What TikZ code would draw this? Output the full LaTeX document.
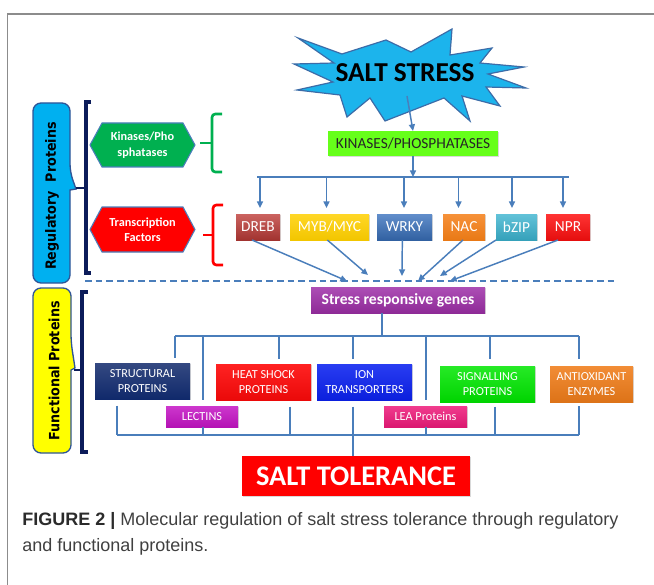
\documentclass[tikz,border=0pt]{standalone}
\usepackage{fontspec}
\setmainfont{Carlito}
\newfontfamily\capfont{Liberation Sans}
\newfontfamily\vfont[FakeStretch=0.9]{DejaVu Sans}
\usetikzlibrary{arrows.meta,shadows,calc}
\definecolor{linec}{HTML}{4A7EBB}
\definecolor{framec}{HTML}{8C8C8C}
\definecolor{starfill}{HTML}{1CB4EC}
\definecolor{starline}{HTML}{3C6CA8}
\definecolor{kgreen}{HTML}{66FF1A}
\definecolor{hexgreen}{HTML}{00B050}
\definecolor{navy}{HTML}{0C1C5A}
\definecolor{calloutline}{HTML}{2F5597}
\definecolor{regfill}{HTML}{00B0F0}
\definecolor{funfill}{HTML}{FFFF00}
\definecolor{drebc}{HTML}{BE3C38}
\definecolor{mybc}{HTML}{FFD000}
\definecolor{wrkyc}{HTML}{3A72BE}
\definecolor{nacc}{HTML}{F57F17}
\definecolor{bzipc}{HTML}{3BB3CF}
\definecolor{nprc}{HTML}{FF1010}
\definecolor{genesc}{HTML}{9E2FA8}
\definecolor{structc}{HTML}{10296B}
\definecolor{heatc}{HTML}{FF0A0A}
\definecolor{ionc}{HTML}{0C22F0}
\definecolor{sigc}{HTML}{00E600}
\definecolor{antic}{HTML}{F07D1A}
\definecolor{lectc}{HTML}{C414C4}
\definecolor{leac}{HTML}{EE1A7A}
\definecolor{saltc}{HTML}{FF0000}
\definecolor{capdark}{HTML}{2B2B2B}
\definecolor{capgray}{HTML}{404040}
\newcommand\pbx[7]{\node[#6, minimum width={(#4-#2)*0.75pt}, minimum height={(#5-#3)*0.75pt}] (#1) at ({(#2+#4)/2},{(#3+#5)/2}) {#7};}
\begin{document}
\begin{tikzpicture}[x=0.75pt,y=-0.75pt,
  arr/.style={draw=linec, line width=1.1pt, -{Triangle[length=5pt,width=4.5pt]}},
  tree/.style={draw=linec, line width=1.6pt},
  bx/.style={inner sep=0pt, outer sep=0pt, align=center, text=white,
    drop shadow={opacity=0.3, shadow xshift=1.1pt, shadow yshift=-1.1pt}},
  tfbox/.style={bx, font=\fontsize{11.5}{13}\selectfont},
  rowbox/.style={bx, font=\fontsize{9.2}{10.8}\selectfont},
  hexa/.style={draw=linec, line width=0.8pt},
  hextext/.style={text=white, align=center, font=\bfseries\fontsize{9.2}{11.5}\selectfont},
  callout/.style={draw=calloutline, line width=1pt},
  vlabel/.style={rotate=90, font=\vfont\bfseries\fontsize{10.6}{12}\selectfont},
  bracket/.style={draw=navy, line width=2.3pt},
  brace/.style={line width=2pt, rounded corners=2.5pt}
]
\useasboundingbox (0,0) rectangle (654,585);
% frame
\draw[framec, line width=1.1pt] (7.5,585) -- (7.5,14) -- (654,14);

% star
\draw[fill=starfill, draw=starline, line width=0.9pt, line join=miter]
 (298,38) -- (342,54) -- (386,40) -- (411,52) -- (452,29) -- (450,55) -- (492,48) -- (480,63)
 -- (524,67) -- (488,74) -- (526,88) -- (486,87) -- (500,106) -- (462,96) -- (470,121)
 -- (444,98) -- (385,121) -- (370,98) -- (347,117) -- (340,95) -- (297,90) -- (333,82)
 -- (294,64) -- (334,63) -- cycle;
\node[font=\bfseries\fontsize{20.5}{22}\selectfont, inner sep=0pt] (salt stress) at (405,73) {SALT STRESS};
\coordinate (starbot) at (407,96);

% kinases box
\pbx{kin}{328}{131}{498}{156}{bx, fill=kgreen, text=black!85, font=\fontsize{11.5}{13}\selectfont}{KINASES/PHOSPHATASES}
\draw[arr] (starbot) -- (kin.north);

% TF boxes
\pbx{dreb}{236}{214}{280}{240}{tfbox, top color=drebc!80!white, bottom color=drebc!85!black}{DREB}
\pbx{myb}{290}{214}{369}{240}{tfbox, top color=mybc!85!white, bottom color=mybc!95!black}{MYB/MYC}
\pbx{wrky}{377}{214}{432}{240}{tfbox, top color=wrkyc!80!white, bottom color=wrkyc!85!black}{WRKY}
\pbx{nac}{443}{214}{485}{240}{tfbox, top color=nacc!85!white, bottom color=nacc!95!black}{NAC}
\pbx{bzip}{496}{214}{537}{240}{tfbox, top color=bzipc!80!white, bottom color=bzipc!90!black}{bZIP}
\pbx{npr}{546}{214}{590}{240}{tfbox, top color=nprc!85!white, bottom color=nprc!90!black}{NPR}

\coordinate (hl) at (407,177);
\draw[arr] (kin.south) -- (kin.south |- hl);
\draw[tree, line width=1.3pt] ([xshift=-0.5pt]dreb.north |- hl) -- ([xshift=0.5pt]npr.north |- hl);
\foreach \b/\dx in {dreb/2,myb/-3,wrky/-0.5,nac/-5.5,bzip/-4.5,npr/-5} {
  \draw[arr, shorten >=4.5pt] ([xshift=\dx*0.75pt]\b.north |- hl) -- ([xshift=\dx*0.75pt]\b.north);
}

% dashed separator
\coordinate (dl) at (85,281);
\coordinate (dr) at (616,281);
\draw[draw=linec, line width=1.6pt, dash pattern=on 5pt off 3pt] (dl) -- (dr);

% arrows from TFs to dashed line
\coordinate (e1) at (347,281);
\coordinate (e2) at (368,275);
\coordinate (e3) at (402,276);
\coordinate (e4) at (418,281);
\coordinate (e5) at (440,276);
\coordinate (e6) at (450,281);
\draw[arr] ([xshift=12pt]dreb.south west) -- (e1);
\draw[arr] ([xshift=28pt]myb.south west) -- (e2);
\draw[arr] ([xshift=19pt]wrky.south west) -- (e3);
\draw[arr] ([xshift=15pt]nac.south west) -- (e4);
\draw[arr] (bzip.south west) -- (e5);
\draw[arr] ([xshift=9pt]npr.south west) -- (e6);

% stress responsive genes
\pbx{genes}{311}{287}{485}{313}{bx, top color=genesc!85!white, bottom color=genesc!90!black, font=\bfseries\fontsize{11.7}{13}\selectfont}{Stress responsive genes}

% functional boxes
\pbx{struct}{95}{363}{190}{399}{rowbox, top color=structc!85!white, bottom color=structc}{STRUCTURAL\\PROTEINS}
\pbx{heat}{216}{364}{311}{400}{rowbox, top color=heatc!90!white, bottom color=heatc!92!black}{HEAT SHOCK\\PROTEINS}
\pbx{ion}{317}{364}{412}{400}{rowbox, top color=ionc!88!white, bottom color=ionc!92!black}{ION\\TRANSPORTERS}
\pbx{signal}{440}{366}{535}{402}{rowbox, top color=sigc!85!white, bottom color=sigc!92!black}{SIGNALLING\\PROTEINS}
\pbx{anti}{550}{366}{633}{402}{rowbox, top color=antic!88!white, bottom color=antic!92!black}{ANTIOXIDANT\\ENZYMES}
\pbx{lectins}{166}{406}{238}{427}{rowbox, top color=lectc!85!white, bottom color=lectc!92!black}{LECTINS}
\pbx{lea}{384}{406}{467}{427}{rowbox, top color=leac!85!white, bottom color=leac!92!black}{LEA Proteins}
\pbx{salt}{242}{456}{470}{496}{bx, fill=saltc, font=\bfseries\fontsize{21.3}{23}\selectfont}{SALT TOLERANCE}

% upper distribution tree
\coordinate (top) at (382,336);
\coordinate (t1) at (175,336);
\coordinate (t2) at (203,336);
\coordinate (t3) at (279,336);
\coordinate (t4) at (353,336);
\coordinate (t5) at (426,336);
\coordinate (t6) at (490,336);
\coordinate (t7) at (579,336);
\draw[tree] (genes.south -| top) -- (top);
\draw[tree] (t1) -- (t7);
\draw[tree] (t1) -- ([yshift=4pt]struct.north -| t1);
\draw[tree] (t2) -- ([yshift=4.5pt]lectins.north -| t2);
\draw[tree] (t3) -- ([yshift=4pt]heat.north -| t3);
\draw[tree] (t4) -- ([yshift=4pt]ion.north -| t4);
\draw[tree] (t5) -- ([yshift=4.5pt]lea.north -| t5);
\draw[tree] (t6) -- ([yshift=5pt]signal.north -| t6);
\draw[tree] (t7) -- ([yshift=5pt]anti.north -| t7);

% lower collecting tree
\coordinate (b1) at (117,435);
\coordinate (b2) at (203,435);
\coordinate (b3) at (290,435);
\coordinate (b4) at (353,435);
\coordinate (b5) at (426,435);
\coordinate (b6) at (495,435);
\coordinate (b7) at (579,435);
\draw[tree] (b1) -- (b7);
\draw[tree] ([yshift=-5pt]struct.south -| b1) -- (b1);
\draw[tree] (lectins.south -| b2) -- (b2);
\draw[tree] ([yshift=-5pt]heat.south -| b3) -- (b3);
\draw[tree] ([yshift=-5pt]ion.south -| b4) -- (salt.north -| b4);
\draw[tree] (lea.south -| b5) -- (b5);
\draw[tree] ([yshift=-3.5pt]signal.south -| b6) -- (b6);
\draw[tree] ([yshift=-3pt]anti.south -| b7) -- (b7);

% regulatory callout
\draw[callout, fill=regfill, rounded corners=6pt] (33,103) -- (70,103) -- (70,172) [sharp corners] -- (76,189) -- (70,190) [rounded corners=6pt] -- (70,283) -- (33,283) -- cycle;
\node[vlabel] (regtext) at (52,196) {Regulatory\ \ Proteins};
\draw[bracket] (91,102) -- (86,102) -- (86,273) -- (91,273);
\coordinate (regtick) at (76,188);
\draw[bracket, line width=2pt] (86,188) -- (regtick);

% functional callout
\draw[callout, fill=funfill, rounded corners=6pt] (33,288) -- (71,288) -- (71,342) [sharp corners] -- (75,368) -- (71,370) [rounded corners=6pt] -- (71,453) -- (33,453) -- cycle;
\node[vlabel] (funtext) at (54,371) {Functional Proteins};
\draw[bracket] (88,292) -- (82,292) -- (82,452) -- (88,452);
\coordinate (funtick) at (74,370);
\draw[bracket, line width=2pt] (82,370) -- (funtick);

% hexagons
\draw[hexa, fill=hexgreen] (90,145) -- (102,123) -- (183,123) -- (195,145) -- (183,167) -- (102,167) -- cycle;
\node[hextext] (kinhex) at (142.5,145) {Kinases/Pho\\sphatases};
\draw[hexa, fill=saltc] (90,229.5) -- (102,207) -- (183,207) -- (195,229.5) -- (183,252) -- (102,252) -- cycle;
\node[hextext] (tfhex) at (142.5,229.5) {Transcription\\Factors};

% braces
\draw[brace, draw=hexgreen] (222,114) -- (212,114) -- (212,143) -- (212,172) -- (222,172);
\draw[draw=hexgreen, line width=2pt] (212,143) -- (200,143);
\draw[brace, draw=saltc] (223,205) -- (213,205) -- (213,235) -- (213,265) -- (223,265);
\draw[draw=saltc, line width=2pt] (213,235) -- (203,235);

% caption
\node[anchor=base west, inner sep=0pt, font=\capfont\fontsize{13.5}{16}\selectfont, text=capgray] (cap1) at (22,525)
  {\textcolor{capdark}{\bfseries FIGURE 2 |} Molecular regulation of salt stress tolerance through regulatory};
\node[anchor=base west, inner sep=0pt, font=\capfont\fontsize{13.5}{16}\selectfont, text=capgray] (cap2) at (22,551)
  {and functional proteins.};
\end{tikzpicture}
\end{document}
